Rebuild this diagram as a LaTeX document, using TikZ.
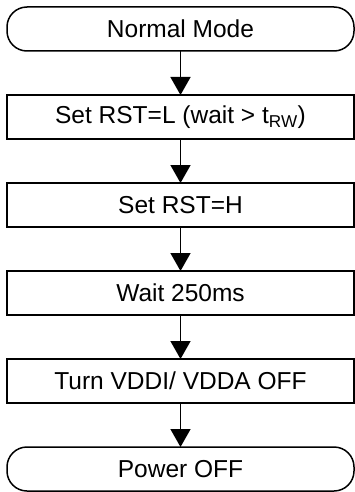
\documentclass[tikz,border=0pt]{standalone}
\usepackage{fontspec}
\setmainfont{Liberation Sans}
\usetikzlibrary{arrows.meta,positioning}

\begin{document}
\begin{tikzpicture}[>={Triangle[width=20pt,length=18pt]},
  every node/.style={font=\fontsize{24.5}{28}\selectfont},
  proc/.style={draw,line width=1.5pt,minimum width=347pt,minimum height=44pt,inner sep=0pt,outer sep=0pt},
  term/.style={proc,rounded corners=20pt},
  flow/.style={->,line width=1.5pt}]
\useasboundingbox (0,0) rectangle (355pt,-492pt);
\node[term] (normal) at (180.5pt,-29pt) {Normal Mode};
\node[proc,below=44pt of normal] (rstlow) {Set RST=L (wait > t\textsubscript{RW})};
\node[proc,below=44pt of rstlow] (rsthigh) {Set RST=H};
\node[proc,below=44pt of rsthigh] (wait) {Wait 250ms};
\node[proc,below=44pt of wait] (vddoff) {Turn VDDI/ VDDA OFF};
\node[term,below=44pt of vddoff] (poweroff) {Power OFF};
\draw[flow] (normal) -- (rstlow);
\draw[flow] (rstlow) -- (rsthigh);
\draw[flow] (rsthigh) -- (wait);
\draw[flow] (wait) -- (vddoff);
\draw[flow] (vddoff) -- (poweroff);
\end{tikzpicture}
\end{document}
